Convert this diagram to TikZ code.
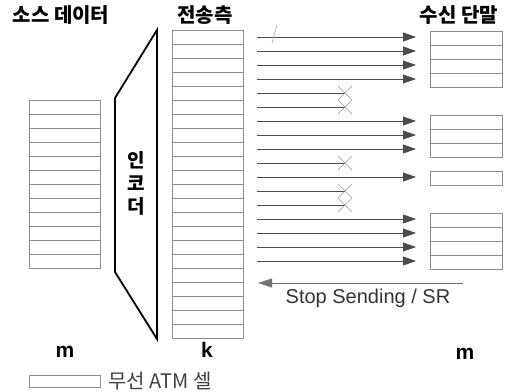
\documentclass[tikz,border=0pt]{standalone}
\usepackage{fontspec}
\setmainfont{Liberation Sans}
\newfontfamily\kr{Noto Sans CJK KR}
\usetikzlibrary{arrows.meta}
\begin{document}
\begin{tikzpicture}[x=1pt,y=-1pt,
  cellbox/.style={draw=black!45,line width=0.6pt},
  flow/.style={draw=black!70,line width=0.8pt},
  flowtip/.style={flow,-{Triangle[length=13pt,width=9pt]}},
  crossmark/.style={draw=black!40,line width=0.6pt},
  title/.style={font=\kr\bfseries\fontsize{20}{24}\selectfont,inner sep=0pt},
  lab/.style={font=\bfseries\fontsize{21}{24}\selectfont,inner sep=0pt},
  enc/.style={draw=black,line width=1.8pt,line join=miter}]
\useasboundingbox (0,0) rectangle (511,391);
% titles
\node[title] (tsrc) at (61,15) {소스 데이터};
\node[title] (ttx) at (205,15) {전송측};
\node[title] (trx) at (459,15) {수신 단말};
% source column: 12 cells
\foreach \i in {0,...,11} {
  \draw[cellbox] (29,{100+14*\i}) rectangle (100,{114+14*\i});
}
% encoder
\draw[enc] (157,30) -- (115,98) -- (115,272) -- (157,339) -- cycle;
\node[font=\kr\bfseries\fontsize{19}{22}\selectfont,inner sep=0pt,align=center] (encl) at (136,183) {인\\[1pt]코\\[1pt]더};
% transmission column: 22 cells
\foreach \i in {0,...,21} {
  \draw[cellbox] (172,{30+14*\i}) rectangle (243,{44+14*\i});
}
% arrows that arrive
\foreach \i in {0,1,2,3,6,7,8,10,13,14,15,16} {
  \coordinate (s\i) at (257,{37+14*\i});
  \coordinate (e\i) at (416,{37+14*\i});
  \draw[flowtip] (s\i) -- (e\i);
}
% lost cells
\foreach \i in {4,5,9,11,12} {
  \coordinate (s\i) at (257,{37+14*\i});
  \coordinate (x\i) at (345,{37+14*\i});
  \draw[flow] (s\i) -- (x\i);
  \draw[crossmark] ([shift={(-7,-7)}]x\i) -- ([shift={(7,7)}]x\i);
  \draw[crossmark] ([shift={(7,-7)}]x\i) -- ([shift={(-7,7)}]x\i);
}
% faint slash
\draw[draw=black!35,line width=0.6pt] (277,25) -- (272,43);
% receiver groups
\foreach \i in {0,1,2,3,6,7,8,10,13,14,15,16} {
  \draw[cellbox] (430,{31+14*\i}) rectangle (502,{45+14*\i});
}
% stop sending
\coordinate (sr1) at (463,283);
\coordinate (sr2) at (258,283);
\draw[draw=black!55,line width=0.8pt,-{Triangle[length=14pt,width=9pt]}] (sr1) -- (sr2);
\node[font=\fontsize{20}{24}\selectfont,text=black!80,inner sep=0pt] (srl) at (368,298) {Stop Sending / SR};
% bottom labels
\node[lab] (m1) at (65,352) {m};
\node[lab] (k1) at (207,350) {k};
\node[lab] (m2) at (465,354) {m};
% legend
\draw[cellbox] (29,375) rectangle (100,387) coordinate (lg);
\node[font=\kr\fontsize{20}{24}\selectfont,text=black!75,inner sep=0pt,anchor=west] (lgt) at (108,381) {무선 ATM 셀};
\end{tikzpicture}
\end{document}
